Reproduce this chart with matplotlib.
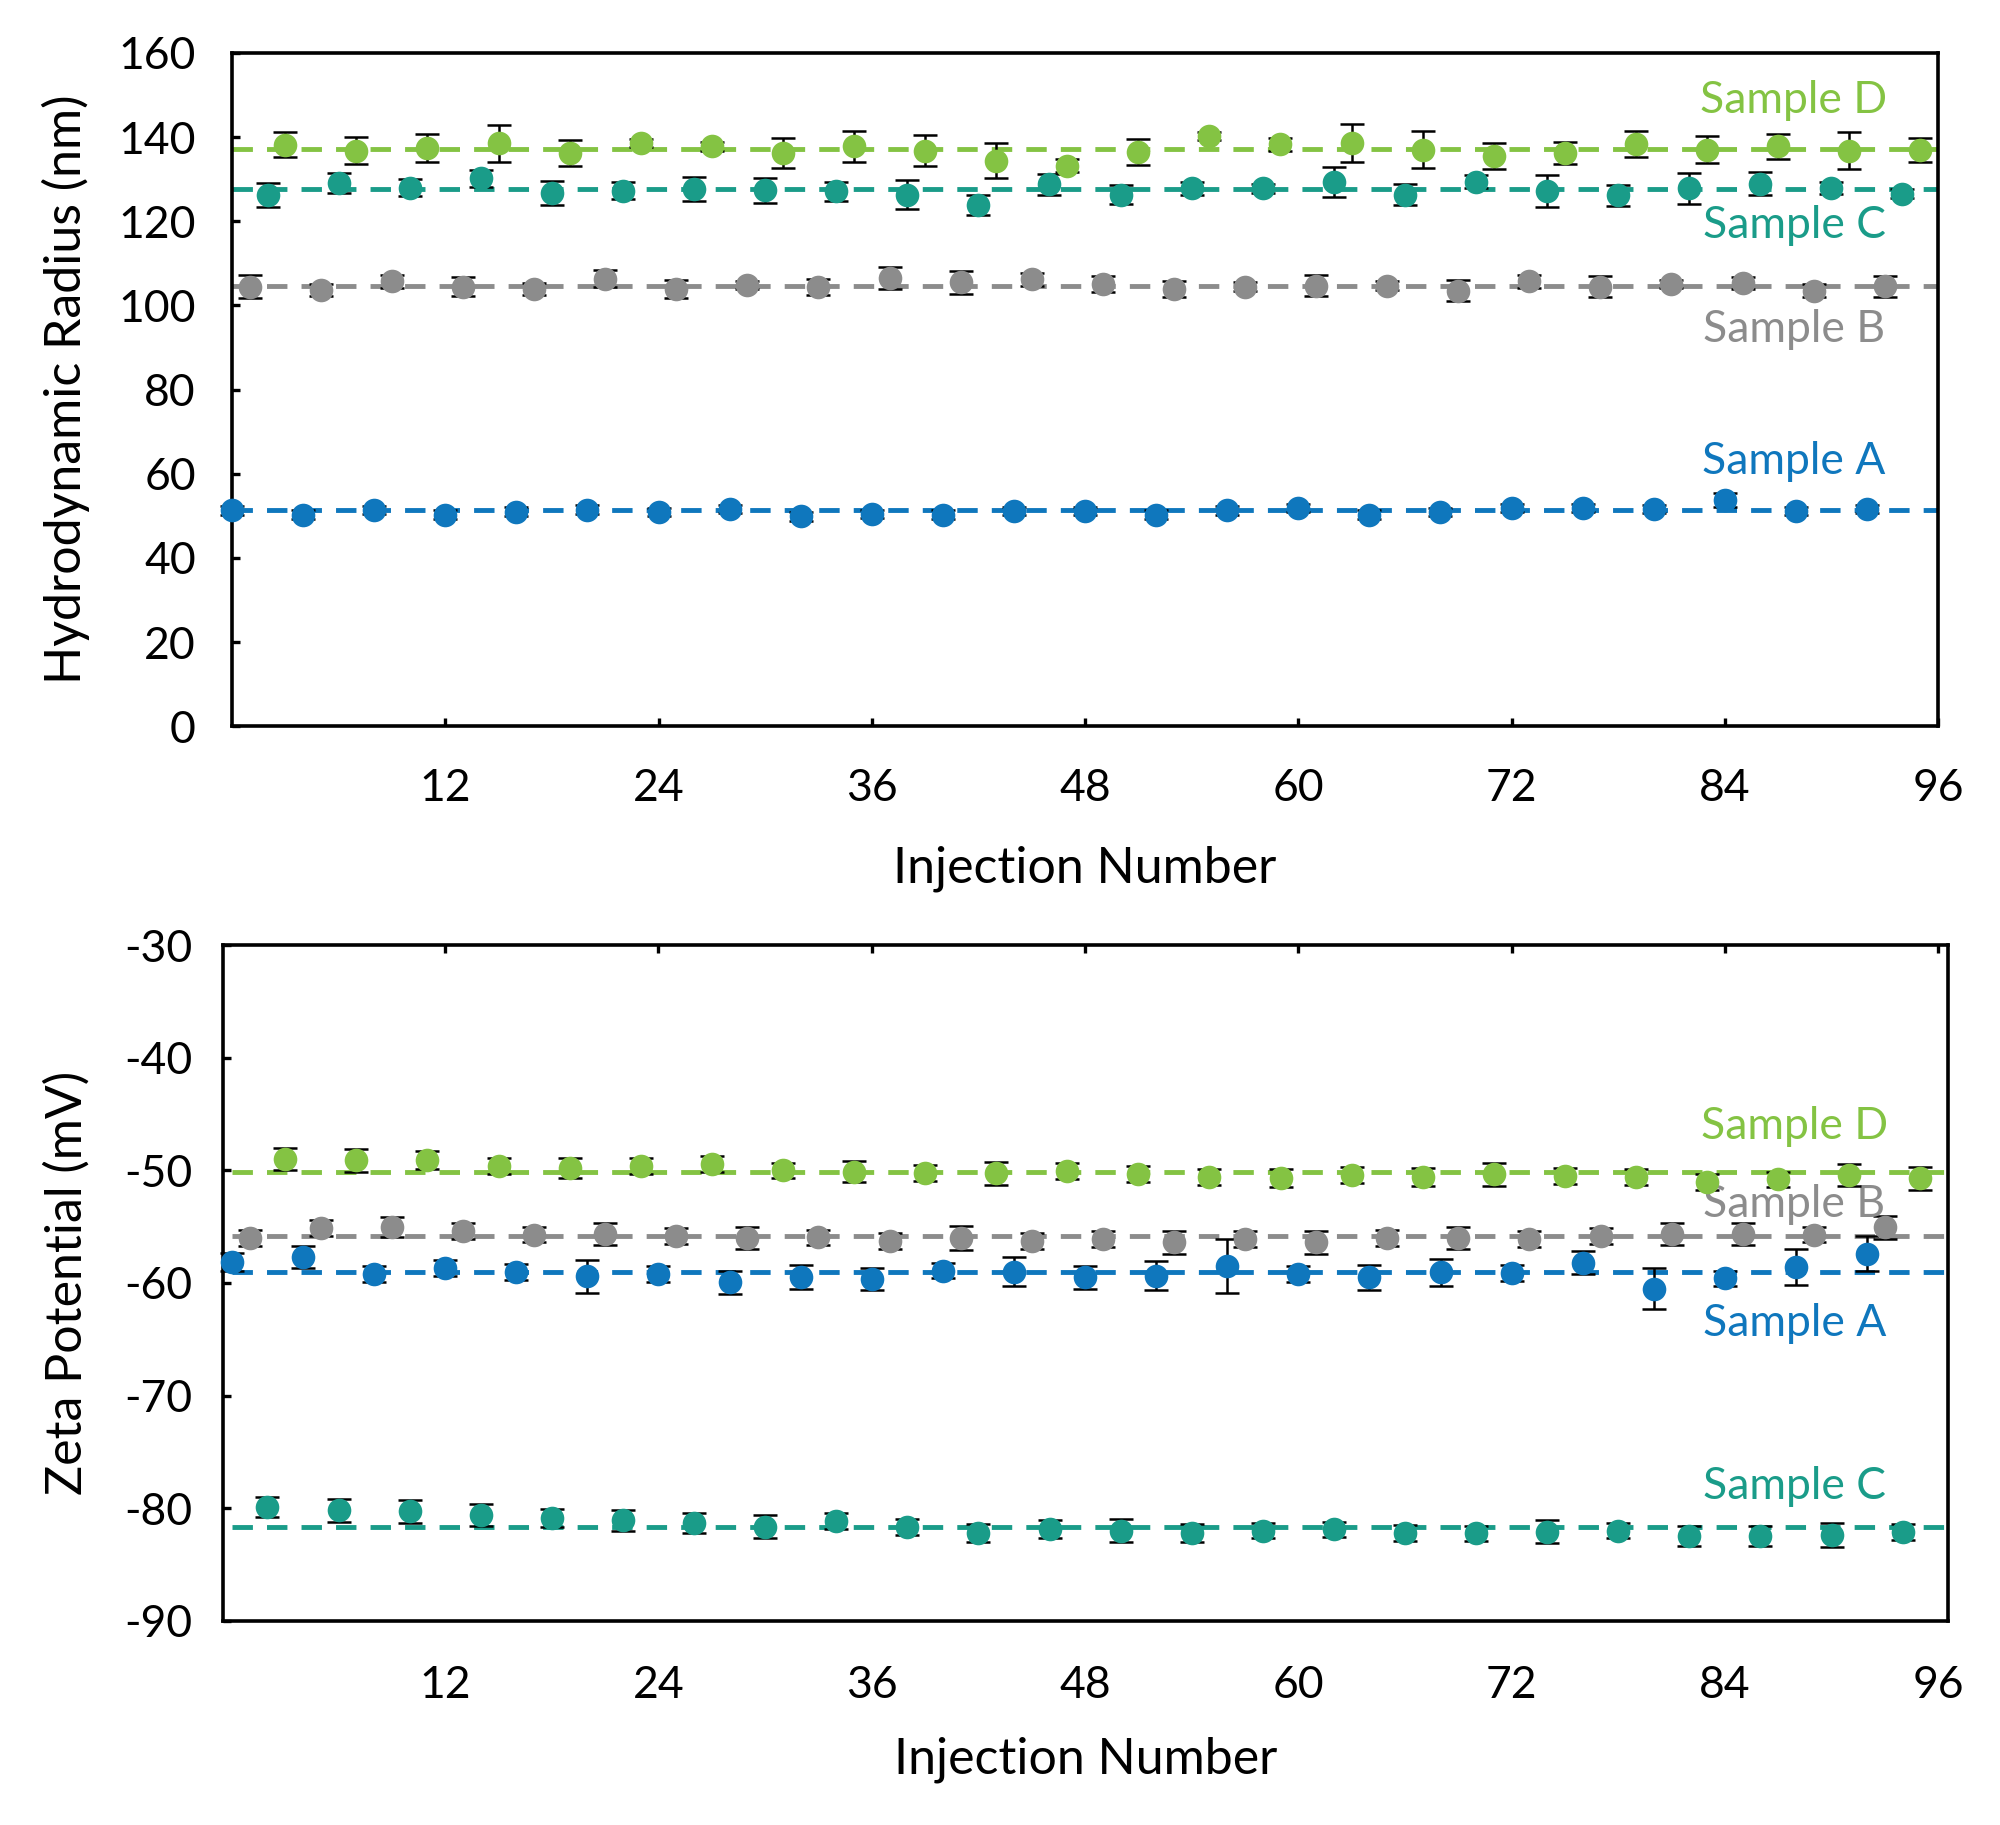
import matplotlib
matplotlib.use('Agg')
import matplotlib.pyplot as plt
import numpy as np

plt.rcParams['font.family'] = ['Lato', 'DejaVu Sans']
plt.rcParams['axes.unicode_minus'] = False

# injection numbers of each sample (4 samples interleaved)
x_a = np.arange(0, 96, 4)
x_b = x_a + 1
x_c = x_a + 2
x_d = x_a + 3

# hydrodynamic radius (nm)
rad_a = [51.3, 50.3, 51.4, 50.3, 51.0, 51.5, 50.9, 51.7, 49.9, 50.5, 50.3, 51.1,
         51.1, 50.3, 51.3, 51.9, 50.3, 50.9, 51.9, 51.9, 51.7, 53.7, 51.1, 51.7]
rad_a_err = [1.0, 1.0, 1.0, 1.0, 1.0, 1.0, 1.0, 1.0, 1.0, 1.0, 1.0, 1.0,
             1.0, 1.0, 1.0, 1.0, 1.0, 1.0, 1.0, 1.0, 1.0, 1.7, 1.0, 1.0]
rad_b = [104.5, 103.7, 105.7, 104.5, 103.9, 106.4, 103.9, 104.9, 104.4, 106.5, 105.5, 106.2,
         105.1, 103.9, 104.5, 104.7, 104.7, 103.5, 105.7, 104.5, 105.1, 105.3, 103.5, 104.6]
rad_b_err = [2.7, 1.5, 1.5, 2.2, 1.5, 2.0, 2.2, 1.0, 2.0, 2.6, 2.7, 1.5,
             2.0, 2.0, 1.0, 2.5, 1.0, 2.5, 1.5, 2.5, 1.0, 1.5, 1.5, 2.5]
rad_c = [126.2, 129.1, 128.0, 130.2, 126.7, 127.3, 127.7, 127.4, 127.1, 126.3, 123.9, 128.8,
         126.3, 127.8, 127.8, 129.3, 126.3, 129.4, 127.1, 126.2, 127.8, 128.9, 127.9, 126.6]
rad_c_err = [2.8, 2.4, 2.0, 2.0, 2.8, 2.0, 2.8, 3.0, 2.3, 3.5, 2.4, 2.5,
             2.3, 1.5, 1.0, 3.5, 2.5, 1.5, 3.8, 2.5, 3.7, 2.7, 1.5, 1.0]
rad_d = [138.2, 136.8, 137.4, 138.5, 136.3, 138.6, 137.8, 136.3, 137.8, 136.8, 134.4, 133.2,
         136.5, 140.3, 138.3, 138.5, 137.0, 135.6, 136.3, 138.4, 137.0, 137.8, 136.8, 137.0]
rad_d_err = [2.9, 3.3, 3.3, 4.4, 3.1, 1.0, 1.0, 3.6, 3.6, 3.7, 4.2, 1.5,
             3.1, 1.0, 1.5, 4.5, 4.4, 3.1, 2.6, 3.1, 3.2, 2.9, 4.4, 2.9]
rad_mean = [51.3, 104.7, 127.6, 137.2]   # A, B, C, D

# zeta potential (mV)
zeta_a = [-58.1, -57.7, -59.2, -58.7, -59.0, -59.4, -59.2, -59.95, -59.5, -59.65, -58.9, -59.0,
          -59.5, -59.35, -58.5, -59.2, -59.5, -59.05, -59.1, -58.2, -60.5, -59.6, -58.6, -57.4]
zeta_a_err = [0.8, 1.0, 0.7, 0.7, 0.7, 1.45, 0.7, 1.0, 1.07, 1.0, 0.7, 1.3,
              1.0, 1.3, 2.4, 0.7, 1.1, 1.2, 0.7, 1.0, 1.85, 0.7, 1.6, 1.55]
zeta_b = [-56.0, -55.1, -55.05, -55.35, -55.7, -55.65, -55.8, -56.0, -55.95, -56.3, -56.0, -56.3,
          -56.1, -56.4, -56.1, -56.4, -56.0, -56.0, -56.1, -55.85, -55.65, -55.65, -55.7, -55.05]
zeta_b_err = [0.7, 0.7, 0.9, 0.7, 0.7, 1.0, 0.7, 1.0, 0.7, 0.7, 1.1, 0.7,
              0.7, 1.0, 0.7, 1.0, 0.7, 1.0, 0.7, 0.7, 1.0, 1.0, 0.7, 1.0]
zeta_c = [-79.9, -80.2, -80.3, -80.6, -80.9, -81.1, -81.35, -81.65, -81.15, -81.65, -82.2, -81.9,
          -82.0, -82.2, -82.0, -81.9, -82.2, -82.25, -82.1, -82.0, -82.5, -82.5, -82.4, -82.1]
zeta_c_err = [0.9, 1.0, 1.0, 1.0, 0.8, 0.9, 0.9, 1.0, 0.7, 0.7, 0.8, 0.8,
              1.0, 0.8, 0.7, 0.7, 0.7, 0.7, 1.0, 0.7, 0.9, 0.9, 1.1, 0.7]
zeta_d = [-49.0, -49.1, -49.1, -49.6, -49.8, -49.6, -49.4, -50.0, -50.1, -50.25, -50.25, -50.05,
          -50.3, -50.6, -50.7, -50.4, -50.6, -50.35, -50.5, -50.6, -51.0, -50.8, -50.4, -50.7]
zeta_d_err = [0.95, 1.0, 0.8, 0.7, 0.9, 0.7, 0.7, 0.7, 0.9, 0.7, 1.0, 0.7,
              0.7, 0.7, 0.8, 0.7, 0.8, 1.0, 0.7, 0.7, 0.7, 0.7, 1.0, 1.0]
zeta_mean = [-59.0, -55.85, -81.64, -50.17]   # A, B, C, D

names = ['Sample A', 'Sample B', 'Sample C', 'Sample D']
colors = ['#0F77BD', '#8C8C8C', '#1A9C89', '#84C343']

# label positions for each sample
rad_lab_y = [63.0, 94.2, 119.1, 148.8]
zeta_lab_y = [-63.6, -53.0, -78.1, -46.1]
lab_x = 87.9

xticks = [12, 24, 36, 48, 60, 72, 84, 96]

fig = plt.figure(figsize=(20, 18.25), dpi=100)
ax1 = fig.add_axes([0.116, 0.602, 0.853, 0.369])
ax2 = fig.add_axes([0.1115, 0.112, 0.8625, 0.370])


def draw(ax, xs, ys, errs, means, lab_y, x0, x1):
    for i in range(4):
        ax.hlines(means[i], x0, x1, colors=colors[i], lw=3.5,
                  linestyles=(0, (4.2, 2.9)), zorder=2)
        ax.errorbar(xs[i], ys[i], yerr=errs[i], fmt='none', ecolor='black',
                    elinewidth=1.8, capsize=8.5, capthick=1.8, zorder=3, clip_on=False)
        ax.plot(xs[i], ys[i], 'o', color=colors[i], ms=17, mec='none',
                zorder=4, clip_on=False)
        ax.text(lab_x, lab_y[i], names[i], color=colors[i], fontsize=32,
                ha='center', va='center')
    for s in ax.spines.values():
        s.set_linewidth(2.6)
    ax.set_xticks(xticks)
    ax.tick_params(labelsize=32, direction='in', width=2.4, length=6)


xs = [x_a, x_b, x_c, x_d]
draw(ax1, xs, [rad_a, rad_b, rad_c, rad_d],
     [rad_a_err, rad_b_err, rad_c_err, rad_d_err], rad_mean, rad_lab_y, 0, 96)
ax1.set_xlim(0, 96)
ax1.set_ylim(0, 160)
ax1.set_yticks(np.arange(0, 161, 20))
ax1.tick_params(axis='x', pad=30)
ax1.tick_params(axis='y', pad=26)
ax1.set_xlabel('Injection Number', fontsize=36)
ax1.set_ylabel('Hydrodynamic Radius (nm)', fontsize=36)
ax1.xaxis.set_label_coords(0.5, -0.177)
ax1.yaxis.set_label_coords(-0.083, 0.5)

draw(ax2, xs, [zeta_a, zeta_b, zeta_c, zeta_d],
     [zeta_a_err, zeta_b_err, zeta_c_err, zeta_d_err], zeta_mean, zeta_lab_y, 0, 96.55)
ax2.set_xlim(-0.5, 96.55)
ax2.set_ylim(-90, -30)
ax2.set_yticks(np.arange(-90, -29, 10))
ax2.tick_params(axis='x', bottom=False, top=True, labelbottom=True, pad=32)
ax2.tick_params(axis='y', pad=22)
ax2.set_xlabel('Injection Number', fontsize=36)
ax2.set_ylabel('Zeta Potential (mV)', fontsize=36)
ax2.xaxis.set_label_coords(0.5, -0.172)
ax2.yaxis.set_label_coords(-0.077, 0.5)

fig.savefig('out.png', dpi=100)
